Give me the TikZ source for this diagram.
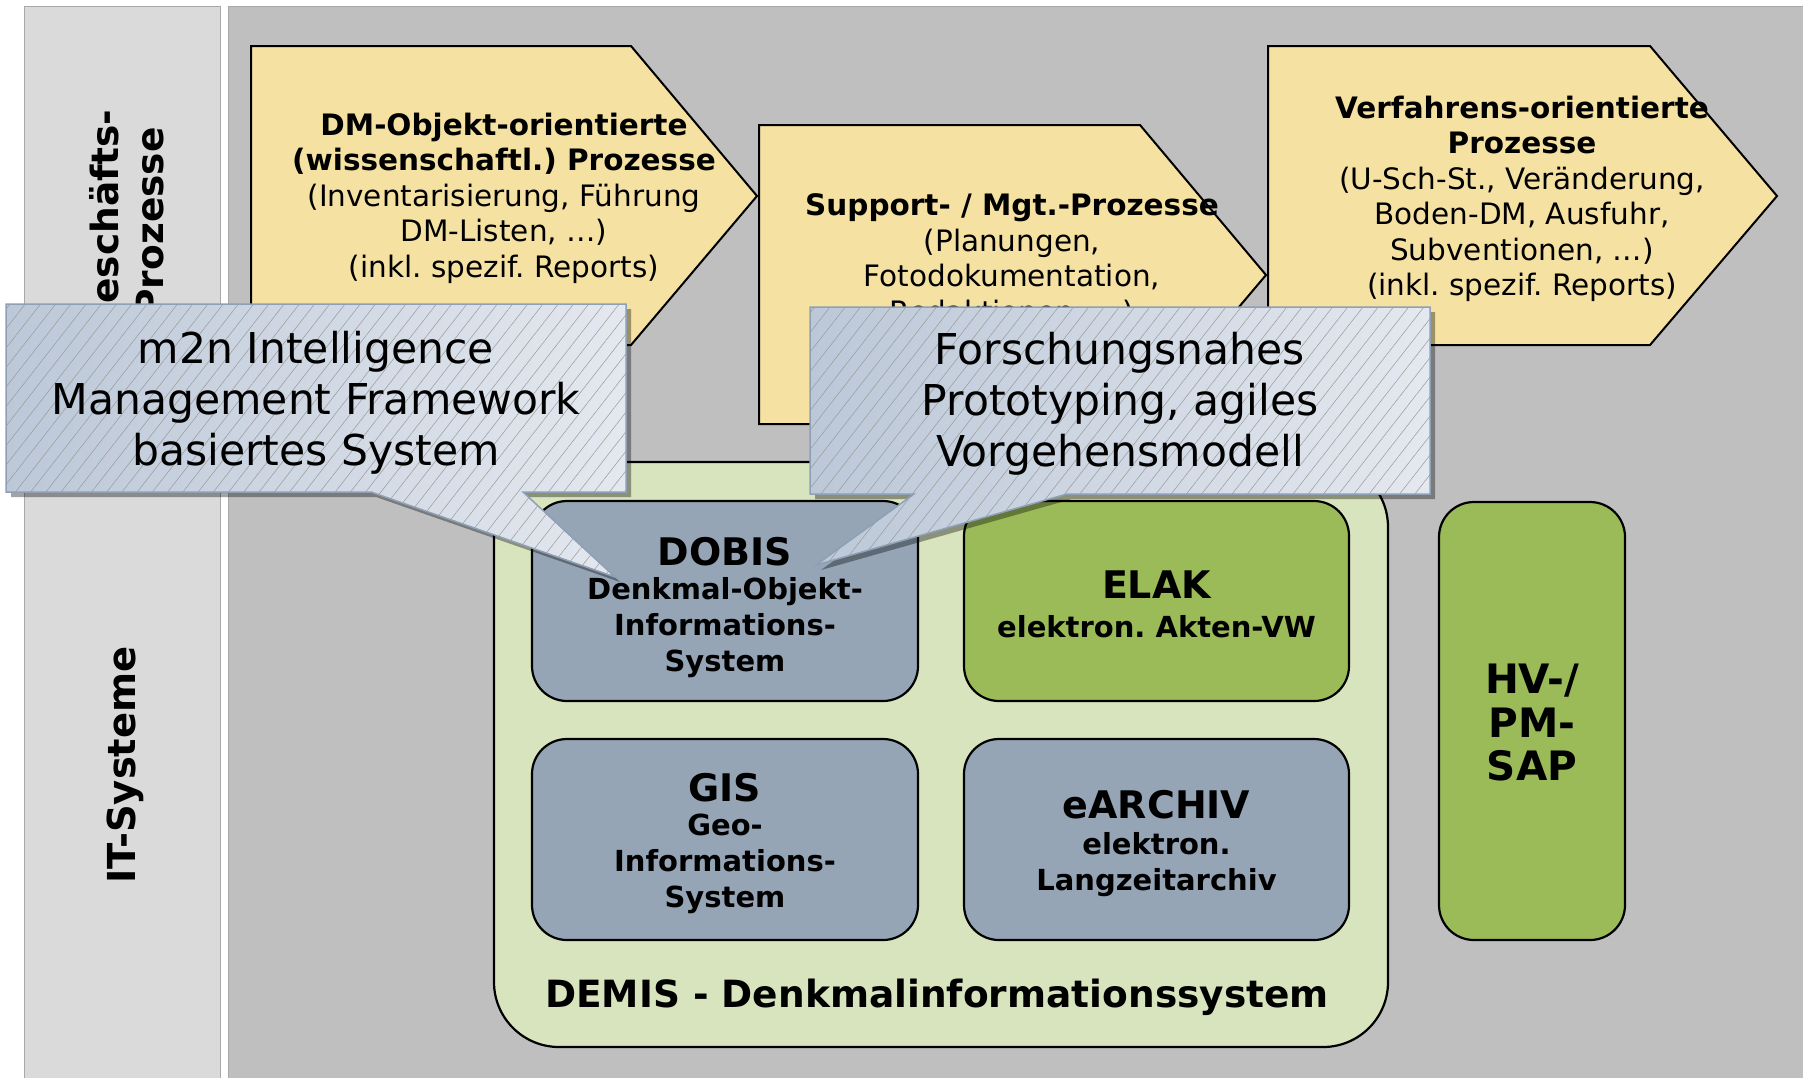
\documentclass[tikz,border=0pt]{standalone}
\usepackage{fontspec}
\setmainfont{DejaVu Sans}
\usetikzlibrary{patterns.meta}
\frenchspacing

\definecolor{panelL}{HTML}{DADADA}
\definecolor{panelM}{HTML}{BFBFBF}
\definecolor{panelLine}{HTML}{A8A8A8}
\definecolor{procYellow}{HTML}{F5E2A2}
\definecolor{demisGreen}{HTML}{D8E4BD}
\definecolor{sysGreen}{HTML}{9BBB59}
\definecolor{sysBlue}{HTML}{95A5B6}
\definecolor{noteLeft}{HTML}{BCC8D8}
\definecolor{noteRight}{HTML}{E4E8EF}
\definecolor{noteLine}{HTML}{8EA0B6}

% outlines of the two speech bubbles
\def\bubbleA{(6,304) -- (626,304) -- (626,492) -- (523,492) -- (615,577) -- (371,492) -- (6,492) -- cycle}
\def\bubbleB{(810,307) -- (1430,307) -- (1430,494) -- (1067,494) -- (816,565) -- (914,494) -- (810,494) -- cycle}

\begin{document}
\begin{tikzpicture}[x=1pt,y=-1pt,
  procbox/.style={fill=procYellow, draw=black, line width=2pt, line join=miter},
  proctext/.style={align=center, inner sep=0pt, font=\fontsize{29.5}{35.5}\selectfont},
  sysbox/.style={draw=black, line width=2.2pt, rounded corners=35pt, inner sep=0pt},
  systitle/.style={inner sep=0pt, font=\fontsize{38}{44}\selectfont\bfseries},
  syssub/.style={align=center, inner sep=0pt, font=\fontsize{29}{36}\selectfont\bfseries},
  notetext/.style={align=center, inner sep=0pt, font=\fontsize{42.5}{51}\selectfont},
  lanetext/.style={align=center, inner sep=0pt, rotate=90, font=\fontsize{37.5}{45}\selectfont\bfseries},
  shadowfill/.style={fill=black, fill opacity=0.36},
  hatch/.style={pattern={Lines[angle=52,distance=12pt,line width=0.5pt]}, pattern color=black!40, fill opacity=0.28}
]
\useasboundingbox (0,0) rectangle (1803,1077);
\fill[white] (0,0) rectangle (1803,1077);

% swim lanes
\filldraw[fill=panelL, draw=panelLine, line width=0.8pt] (24,6) rectangle (220,1085);
\filldraw[fill=panelM, draw=panelLine, line width=0.8pt] (228,6) rectangle (1810,1085);

\node[lanetext] (laneGP) at (127,222) {Geschäfts-\\Prozesse};
\node[lanetext, font=\fontsize{38.5}{45}\selectfont\bfseries] (laneIT) at (125,765) {IT-Systeme};

% process chevrons
\filldraw[procbox] (251,46) -- (631,46) -- (757,196) -- (631,345) -- (251,345) -- cycle;
\filldraw[procbox] (759,125) -- (1140,125) -- (1266,275) -- (1140,424) -- (759,424) -- cycle;
\filldraw[procbox] (1268,46) -- (1650,46) -- (1777,196) -- (1650,345) -- (1268,345) -- cycle;

\node[proctext] (procA) at (504,198) {\textbf{DM-Objekt-orientierte}\\\textbf{(wissenschaftl.) Prozesse}\\(Inventarisierung, Führung\\DM-Listen, …)\\(inkl. spezif. Reports)};
\node[proctext] (procB) at (1012,260) {\textbf{Support- / Mgt.-Prozesse}\\(Planungen,\\Fotodokumentation,\\Redaktionen, …)};
\node[proctext] (procC) at (1522,199) {\textbf{Verfahrens-orientierte}\\\textbf{Prozesse}\\(U-Sch-St., Veränderung,\\Boden-DM, Ausfuhr,\\Subventionen, …)\\(inkl. spezif. Reports)};

% DEMIS container with its four systems
\filldraw[fill=demisGreen, draw=black, line width=2.2pt, rounded corners=65pt] (494,462) rectangle (1388,1047);

\node[sysbox, fill=sysBlue, minimum width=386pt, minimum height=200pt] (dobis) at (725,601) {};
\node[sysbox, fill=sysGreen, minimum width=385pt, minimum height=200pt] (elak) at (1156.5,601) {};
\node[sysbox, fill=sysBlue, minimum width=386pt, minimum height=201pt] (gis) at (725,839.5) {};
\node[sysbox, fill=sysBlue, minimum width=385pt, minimum height=201pt] (earchiv) at (1156.5,839.5) {};

\node[systitle] (dobisT) at (725,552) {DOBIS};
\node[syssub] (dobisS) at (725,628) {Denkmal-Objekt-\\Informations-\\System};
\node[systitle] (elakT) at (1156.5,585) {ELAK};
\node[syssub] (elakS) at (1156.5,627) {elektron. Akten-VW};
\node[systitle] (gisT) at (725,788) {GIS};
\node[syssub] (gisS) at (725,864) {Geo-\\Informations-\\System};
\node[systitle] (earchivT) at (1156.5,805) {eARCHIV};
\node[syssub] (earchivS) at (1156.5,864.5) {elektron.\\Langzeitarchiv};

\node[inner sep=0pt, font=\fontsize{37.5}{44}\selectfont\bfseries] (demisL) at (937,997) {DEMIS - Denkmalinformationssystem};

% SAP system beside the container
\node[sysbox, fill=sysGreen, minimum width=186pt, minimum height=438pt] (sap) at (1532,721) {};
\node[align=center, inner sep=0pt, font=\fontsize{40.5}{43.5}\selectfont\bfseries] (sapT) at (1532,723) {HV-/\\PM-\\SAP};

% speech bubbles: shadow, gradient, hatching, outline
\begin{scope}[xshift=5pt, yshift=-5pt]
  \fill[shadowfill] \bubbleA;
\end{scope}
\shade[left color=noteLeft, right color=noteRight] \bubbleA;
\fill[hatch] \bubbleA;
\draw[noteLine, line width=1.5pt, line join=miter] \bubbleA;
\node[notetext] (noteA) at (316,403) {m2n Intelligence\\Management Framework\\basiertes System};

\begin{scope}[xshift=5pt, yshift=-5pt]
  \fill[shadowfill] \bubbleB;
\end{scope}
\shade[left color=noteLeft, right color=noteRight] \bubbleB;
\fill[hatch] \bubbleB;
\draw[noteLine, line width=1.5pt, line join=miter] \bubbleB;
\node[notetext] (noteB) at (1120,404) {Forschungsnahes\\Prototyping, agiles\\Vorgehensmodell};
\end{tikzpicture}
\end{document}
